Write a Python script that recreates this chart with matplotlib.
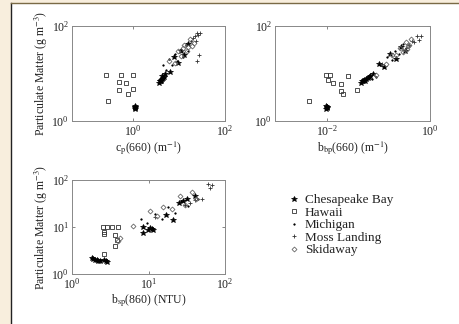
import numpy as np
import matplotlib
matplotlib.use('Agg')
import matplotlib.pyplot as plt
from matplotlib.patches import Rectangle
from matplotlib.lines import Line2D

plt.rcParams['font.family'] = ['Liberation Serif', 'DejaVu Serif']
plt.rcParams['mathtext.fontset'] = 'stix'

# Данные: панель 1, c_p(660)
cp_ches_x = [1.08, 1.10, 1.12, 1.09, 1.11, 3.7, 3.8, 3.9, 4.0, 4.1, 4.2, 4.4, 4.6, 4.3, 5.0, 6.5, 7.8, 9.5, 11.0, 13.0, 15.5]
cp_ches_y = [1.8, 1.9, 2.0, 2.1, 1.95, 6.4, 6.8, 7.1, 7.4, 6.9, 7.8, 8.2, 8.6, 9.0, 9.6, 11, 22, 17, 30, 24, 42]
cp_haw_x = [0.26, 0.54, 1.0, 0.50, 0.70, 0.49, 0.99, 0.79, 0.29]
cp_haw_y = [9.5, 9.5, 9.5, 6.6, 6.2, 4.4, 4.8, 3.75, 2.7]
cp_mich_x = [4.5, 5.2, 6.0, 7.0, 8.2, 9.0, 10.5, 12.0, 14.0, 16.0, 18.0]
cp_mich_y = [15, 12, 20, 15, 26, 18, 32, 22, 40, 30, 48]
cp_moss_x = [20, 22, 24, 26, 28, 25, 27, 23]
cp_moss_y = [55, 62, 70, 66, 72, 18, 25, 48]
cp_skid_x = [6.0, 8.0, 9.5, 11.0, 13.0, 15.0, 17.0, 19.0, 21.0, 12.0, 16.0]
cp_skid_y = [18, 17, 30, 23, 40, 30, 52, 38, 44, 34, 36]

# панель 2, b_bp(660)
bbp_ches_x = [0.0098, 0.0100, 0.0102, 0.0099, 0.0101, 0.046, 0.048, 0.050, 0.052, 0.055, 0.058, 0.062, 0.066, 0.070, 0.080, 0.105, 0.13, 0.17, 0.22, 0.28, 0.33]
bbp_ches_y = [1.8, 1.9, 2.0, 2.1, 1.95, 6.4, 6.8, 7.1, 7.4, 6.9, 7.8, 8.2, 8.6, 9.0, 9.6, 16, 14, 26, 20, 36, 30]
bbp_haw_x = [0.0096, 0.0114, 0.0106, 0.013, 0.026, 0.019, 0.019, 0.021, 0.038, 0.0045]
bbp_haw_y = [9.1, 9.1, 7.4, 6.3, 8.8, 6.1, 4.3, 3.65, 4.6, 2.65]
bbp_mich_x = [0.065, 0.075, 0.09, 0.11, 0.13, 0.15, 0.18, 0.21, 0.25, 0.30, 0.35]
bbp_mich_y = [8.0, 7.5, 8.5, 15, 14, 22, 19, 30, 26, 42, 34]
bbp_moss_x = [0.12, 0.55, 0.68, 0.60, 0.45, 0.40, 0.35, 0.50]
bbp_moss_y = [16, 62, 63, 50, 48, 40, 32, 45]
bbp_skid_x = [0.09, 0.14, 0.18, 0.22, 0.26, 0.30, 0.34, 0.38, 0.42, 0.36, 0.40]
bbp_skid_y = [9.5, 16, 25, 24, 34, 28, 46, 38, 52, 33, 40]

# панель 3, b_sp(860)
bsp_ches_x = [1.8, 1.9, 2.0, 2.1, 2.2, 2.3, 2.6, 2.75, 2.9, 8.5, 8.6, 9.8, 10.5, 11.2, 11.5, 17.0, 21, 25, 28, 32, 40]
bsp_ches_y = [2.2, 2.1, 2.0, 1.95, 1.9, 1.85, 2.0, 1.9, 1.8, 7.5, 10, 8.8, 9.5, 9.0, 8.5, 18, 14, 32, 36, 40, 45]
bsp_haw_x = [2.57, 2.9, 3.3, 4.0, 2.6, 2.6, 3.6, 3.65, 3.9, 2.65]
bsp_haw_y = [10.1, 10.1, 10.1, 10.1, 7.9, 7.1, 6.76, 3.9, 5.3, 2.6]
bsp_mich_x = [2.4, 2.7, 8.0, 9.5, 12, 15, 18, 22, 27, 33, 45]
bsp_mich_y = [2.0, 1.9, 15, 12, 19, 15, 26, 20, 36, 28, 40]
bsp_moss_x = [60, 68, 64, 12, 30, 40, 35, 50]
bsp_moss_y = [82, 80, 68, 16, 30, 38, 32, 40]
bsp_skid_x = [4.0, 4.2, 6.3, 10.5, 13, 15.6, 20, 25.8, 30, 36.8, 42]
bsp_skid_y = [5.0, 5.8, 10.5, 22, 17, 26, 24, 45, 30, 55, 40]

sites = ['Chesapeake Bay', 'Hawaii', 'Michigan', 'Moss Landing', 'Skidaway']
styles = [
    dict(marker='*', ms=4, mfc='black', mec='black', mew=0.5),
    dict(marker='s', ms=3.5, mfc='none', mec='#333333', mew=0.6),
    dict(marker='.', ms=2.5, mfc='black', mec='black', mew=0.3),
    dict(marker='+', ms=3.5, mfc='none', mec='#333333', mew=0.6),
    dict(marker='D', ms=2.5, mfc='none', mec='#666666', mew=0.6),
]

W, H = 459, 324
fig = plt.figure(figsize=(W / 100, H / 100), dpi=100, facecolor='#F8EEDD')

# белая подложка с рамкой
fig.patches.append(Rectangle((11 / W, 0), 1 - 11 / W, (H - 3) / H, transform=fig.transFigure,
                             facecolor='white', edgecolor='none', zorder=-5))
fig.lines.append(Line2D([11 / W, 11 / W], [0, (H - 3) / H], transform=fig.transFigure,
                        color='#222222', lw=1, zorder=-4))
fig.lines.append(Line2D([11 / W, 1], [(H - 3) / H, (H - 3) / H], transform=fig.transFigure,
                        color='#7a6a45', lw=1, zorder=-4))


def make_axes(rect, xlim, xticks, yticks, xlabel, data, ylabel=True):
    ax = fig.add_axes(rect)
    ax.set_zorder(1)
    for (xs, ys), st in zip(data, styles):
        ax.plot(xs, ys, ls='none', **st)
    ax.set_xscale('log')
    ax.set_yscale('log')
    ax.set_xlim(xlim)
    ax.set_ylim(1, 100)
    ax.set_xticks(xticks)
    ax.set_yticks(yticks)
    ax.minorticks_off()
    ax.tick_params(direction='in', length=2, width=0.5, top=True, right=True,
                   labelsize=8.5, colors='#555555', labelcolor='#222222', pad=2)
    for s in ax.spines.values():
        s.set_color('#888888')
        s.set_linewidth(0.7)
    ax.set_xlabel(xlabel, fontsize=8.5, color='#222222', labelpad=1)
    if ylabel:
        ax.set_ylabel('Particulate Matter (g m$^{-3}$)', fontsize=8.5, color='#222222', labelpad=1)
    return ax


def frac(l, t, r, b):
    return [l / W, (H - b) / H, (r - l) / W, (b - t) / H]


make_axes(frac(72, 26, 225, 121), (10 ** -1.33, 100), [1, 100], [1, 100],
          r'c$_\mathrm{p}$(660) (m$^{-1}$)',
          [(cp_ches_x, cp_ches_y), (cp_haw_x, cp_haw_y), (cp_mich_x, cp_mich_y),
           (cp_moss_x, cp_moss_y), (cp_skid_x, cp_skid_y)])
make_axes(frac(275, 26, 430, 121), (1e-3, 1), [1e-2, 1], [1, 100],
          r'b$_\mathrm{bp}$(660) (m$^{-1}$)',
          [(bbp_ches_x, bbp_ches_y), (bbp_haw_x, bbp_haw_y), (bbp_mich_x, bbp_mich_y),
           (bbp_moss_x, bbp_moss_y), (bbp_skid_x, bbp_skid_y)], ylabel=False)
ax3 = make_axes(frac(72, 180, 225, 274), (1, 100), [1, 10, 100], [1, 10, 100],
                r'b$_\mathrm{sp}$(860) (NTU)',
                [(bsp_ches_x, bsp_ches_y), (bsp_haw_x, bsp_haw_y), (bsp_mich_x, bsp_mich_y),
                 (bsp_moss_x, bsp_moss_y), (bsp_skid_x, bsp_skid_y)])

handles = [Line2D([], [], ls='none', **st) for st in styles]
fig.legend(handles, sites, loc='upper left', bbox_to_anchor=(289 / W, (H - 194) / H),
           frameon=False, fontsize=9.5, handlelength=0.8, handletextpad=0.4,
           labelspacing=0.02, borderpad=0, borderaxespad=0, labelcolor='#222222')

fig.savefig('out.png', dpi=100, facecolor=fig.get_facecolor())
